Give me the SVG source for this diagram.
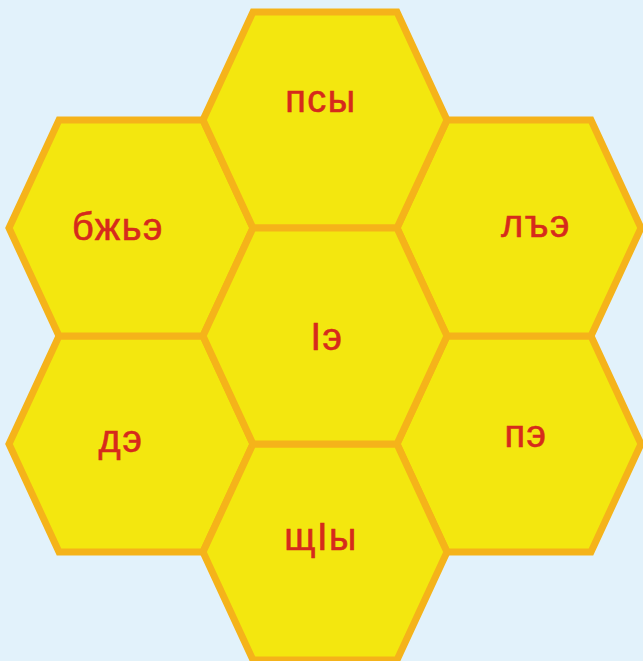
<svg xmlns="http://www.w3.org/2000/svg" width="643" height="661" viewBox="0 0 643 661">
  <defs>
    <polygon id="hex" points="-122,0 -72,-108 72,-108 122,0 72,108 -72,108"/>
  </defs>
  <style>
    .cell { fill: #f3e70f; stroke: #f5b31a; stroke-width: 7; stroke-linejoin: miter; }
    .lbl { font-family: "Liberation Sans", Arial, sans-serif; font-size: 38px; fill: #d62a1c; stroke: #d62a1c; stroke-width: 0.6; text-anchor: middle; letter-spacing: 1.5px; }
  </style>
  <rect width="643" height="661" fill="#e2f2fb"/>
  <g id="connectors"/>
  <g id="node-pe">
    <use href="#hex" class="cell" x="519" y="444"/>
    <text class="lbl" x="526" y="447">пэ</text>
  </g>
  <g id="node-de">
    <use href="#hex" class="cell" x="131" y="444"/>
    <text class="lbl" x="121" y="452">дэ</text>
  </g>
  <g id="node-lhe">
    <use href="#hex" class="cell" x="519" y="228"/>
    <text class="lbl" x="536" y="237">лъэ</text>
  </g>
  <g id="node-bzhe">
    <use href="#hex" class="cell" x="131" y="228"/>
    <text class="lbl" x="118" y="240">бжьэ</text>
  </g>
  <g id="node-psy">
    <use href="#hex" class="cell" x="325" y="120"/>
    <text class="lbl" x="321" y="112">псы</text>
  </g>
  <g id="node-shchy">
    <use href="#hex" class="cell" x="325" y="552"/>
    <text class="lbl" x="321" y="550">щІы</text>
  </g>
  <g id="node-ie">
    <use href="#hex" class="cell" x="325" y="336"/>
    <text class="lbl" x="327" y="350">Іэ</text>
  </g>
</svg>
